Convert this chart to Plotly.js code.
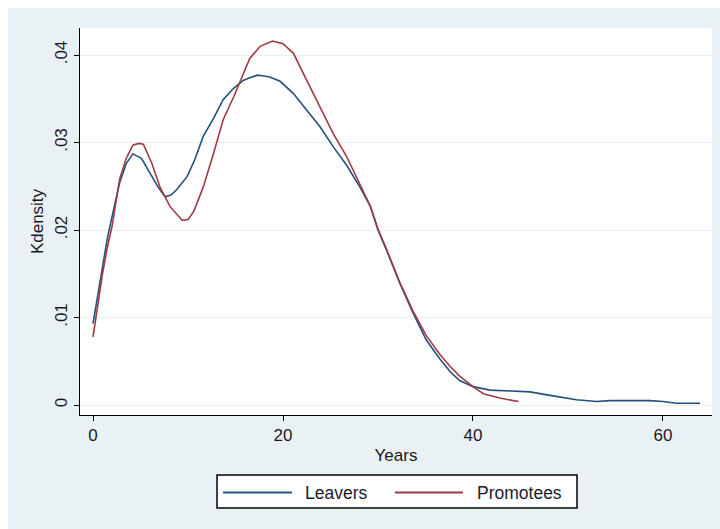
<!DOCTYPE html>
<html>
<head>
<meta charset="utf-8">
<script src="https://cdn.plot.ly/plotly-3.0.1.min.js"></script>
<style>
  html, body { margin: 0; padding: 0; background: #ffffff; }
  #wrap { position: absolute; left: 8px; top: 8px; width: 712px; height: 521px; }
</style>
</head>
<body>
<div id="wrap"></div>
<script>
// Data
const leaversYears = [0, 0.5, 1, 1.5, 2, 2.8, 3.5, 4.2, 5.1, 6.0, 6.85, 7.6, 8.2, 8.8, 9.9, 10.7, 11.6, 12.7, 13.7, 14.8, 15.8, 16.5, 17.3, 18.0, 18.6, 19.7, 21.1, 22.5, 23.9, 25.3, 26.7, 28.1, 29.2, 30.0, 30.9, 32.3, 33.7, 35.1, 36.5, 37.6, 38.6, 40.0, 41.8, 44, 46, 48.1, 50.9, 53, 54.4, 56, 58.6, 60, 61.4, 63.9];
const leaversDensity = [0.0093, 0.0125, 0.016, 0.019, 0.0215, 0.0254, 0.0276, 0.0287, 0.0282, 0.0265, 0.0249, 0.0238, 0.024, 0.0246, 0.0261, 0.028, 0.0307, 0.0328, 0.0349, 0.0362, 0.0371, 0.0374, 0.0377, 0.0376, 0.0375, 0.037, 0.0356, 0.0337, 0.0318, 0.0295, 0.0274, 0.0249, 0.0227, 0.0200, 0.0177, 0.0139, 0.0105, 0.0074, 0.0053, 0.0038, 0.0028, 0.0021, 0.0017, 0.0016, 0.0015, 0.0011, 0.0006, 0.0004, 0.0005, 0.0005, 0.0005, 0.0004, 0.0002, 0.0002];

const promoteesYears = [0, 0.5, 1, 1.5, 2, 2.8, 3.5, 4.2, 4.8, 5.3, 6.2, 7.05, 8.1, 9.4, 10.0, 10.6, 11.6, 12.7, 13.7, 14.8, 15.8, 16.5, 17.6, 18.9, 20.0, 21.1, 22.5, 23.9, 25.3, 26.7, 28.1, 29.2, 30.0, 30.9, 32.3, 33.7, 35.1, 36.5, 37.6, 38.6, 40.0, 41.1, 42.8, 44.8];
const promoteesDensity = [0.0078, 0.0115, 0.015, 0.018, 0.0204, 0.0258, 0.0282, 0.0297, 0.0299, 0.0298, 0.0276, 0.0249, 0.0227, 0.0211, 0.0212, 0.0221, 0.0249, 0.0288, 0.0326, 0.0352, 0.0379, 0.0396, 0.041, 0.0416, 0.0413, 0.0402, 0.0371, 0.0341, 0.031, 0.0284, 0.0253, 0.0227, 0.0201, 0.0178, 0.0140, 0.0107, 0.0079, 0.0058, 0.0044, 0.0033, 0.0021, 0.0013, 0.0008, 0.0004];

const seriesNames = ["Leavers", "Promotees"];
const xTickVals = [0, 20, 40, 60];
const xTickText = ["0", "20", "40", "60"];
const yTickVals = [0, 0.01, 0.02, 0.03, 0.04];
const yTickText = ["0", ".01", ".02", ".03", ".04"];

const FONT = "Liberation Sans, Arial, sans-serif";
const COLORS = ["#24507d", "#9e3b43"];

const traces = [
  { x: leaversYears, y: leaversDensity, type: "scatter", mode: "lines", name: seriesNames[0],
    line: { color: COLORS[0], width: 1.6 }, showlegend: false },
  { x: promoteesYears, y: promoteesDensity, type: "scatter", mode: "lines", name: seriesNames[1],
    line: { color: COLORS[1], width: 1.6 }, showlegend: false }
];

// Stata-style legend box below the plot (paper coordinates)
const legY = -0.2003;
const shapes = [
  { type: "rect", xref: "paper", yref: "paper", x0: 0.2168, x1: 0.7864, y0: -0.1550, y1: -0.2403,
    line: { color: "#000", width: 1.5 }, fillcolor: "#ffffff", layer: "above" },
  { type: "line", xref: "paper", yref: "paper", x0: 0.2263, x1: 0.3354, y0: legY, y1: legY,
    line: { color: COLORS[0], width: 1.8 }, layer: "above" },
  { type: "line", xref: "paper", yref: "paper", x0: 0.4984, x1: 0.6060, y0: legY, y1: legY,
    line: { color: COLORS[1], width: 1.8 }, layer: "above" }
];
const annotations = [
  { xref: "paper", yref: "paper", x: 0.3528, y: legY, xanchor: "left", yanchor: "middle",
    text: seriesNames[0], showarrow: false, font: { size: 17.5, color: "#1a1a2e" } },
  { xref: "paper", yref: "paper", x: 0.6250, y: legY, xanchor: "left", yanchor: "middle",
    text: seriesNames[1], showarrow: false, font: { size: 17.5, color: "#1a1a2e" } }
];

const layout = {
  width: 712, height: 521,
  paper_bgcolor: "#eaf1f4",
  plot_bgcolor: "#ffffff",
  margin: { l: 72, r: 8, t: 20, b: 114 },
  font: { family: FONT, size: 17, color: "#1a1a1a" },
  xaxis: {
    range: [-1.37, 65.16],
    tickvals: xTickVals, ticktext: xTickText,
    showgrid: false, zeroline: false,
    showline: true, linecolor: "#000", linewidth: 1,
    ticks: "outside", ticklen: 5, tickcolor: "#000",
    tickfont: { size: 17 },
    title: { text: "Years", font: { size: 17 }, standoff: 4 }
  },
  yaxis: {
    range: [-0.00114, 0.04309],
    tickvals: yTickVals, ticktext: yTickText,
    tickangle: -90,
    showgrid: true, gridcolor: "#e8f0f2", gridwidth: 1,
    zeroline: false,
    showline: true, linecolor: "#000", linewidth: 1,
    ticks: "outside", ticklen: 5, tickcolor: "#000",
    tickfont: { size: 17 },
    title: { text: "Kdensity", font: { size: 17 }, standoff: 4 }
  },
  showlegend: false,
  shapes: shapes,
  annotations: annotations
};

Plotly.newPlot("wrap", traces, layout, { displayModeBar: false, staticPlot: true });
</script>
</body>
</html>
